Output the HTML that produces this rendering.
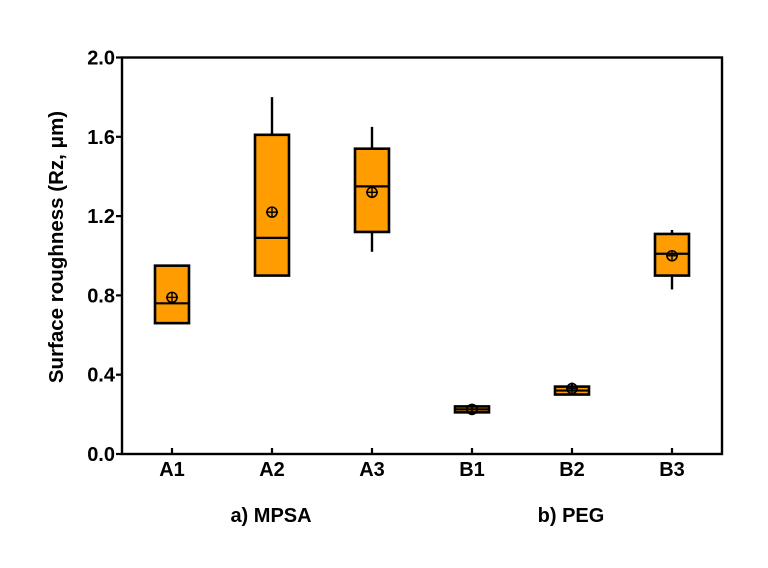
<!DOCTYPE html>
<html><head><meta charset="utf-8"><style>
body{margin:0;background:#fff;}
text{font-family:"Liberation Sans",Arial,sans-serif;font-weight:bold;fill:#000;}
</style></head><body>
<svg id="chart" width="768" height="563" viewBox="0 0 768 563" xmlns="http://www.w3.org/2000/svg">
<rect width="768" height="563" fill="#fff"/>
<g id="marks"></g>
<rect x="122" y="57.5" width="600" height="396.5" fill="none" stroke="#000" stroke-width="2.4"/>
<g id="axes"></g>
<text transform="translate(63,247) rotate(-90)" text-anchor="middle" font-size="20.5">Surface roughness (Rz, μm)</text>
<text x="271" y="522" text-anchor="middle" font-size="20">a) MPSA</text>
<text x="571" y="522" text-anchor="middle" font-size="20">b) PEG</text>
</svg>
<script>
const categories=["A1","A2","A3","B1","B2","B3"];
const q1=[0.66,0.90,1.12,0.21,0.30,0.90];
const q3=[0.95,1.61,1.54,0.24,0.34,1.11];
const medians=[0.76,1.09,1.35,0.225,0.32,1.01];
const means=[0.79,1.22,1.32,0.225,0.33,1.00];
const whiskerLow=[0.66,0.90,1.02,0.21,0.30,0.83];
const whiskerHigh=[0.95,1.80,1.65,0.24,0.36,1.13];
const yTicks=[0,0.4,0.8,1.2,1.6,2.0];
const yTickLabels=["0.0","0.4","0.8","1.2","1.6","2.0"];

const NS="http://www.w3.org/2000/svg";
const X0=122,X1=722,Y0=454,Y1=57.5;
function yScale(v){return Y0-(v/2.0)*(Y0-Y1);}
function xScale(i){return 172+i*100;}
function mk(tag,attrs,parent){const e=document.createElementNS(NS,tag);for(const k in attrs)e.setAttribute(k,attrs[k]);parent.appendChild(e);return e;}
const marks=document.getElementById('marks'),axes=document.getElementById('axes');
const bw=34;
categories.forEach((c,i)=>{
  const x=xScale(i);
  const g=mk('g',{},marks);
  
  
  if(whiskerHigh[i]>q3[i]){const w=mk('line',{x1:x,x2:x,y1:yScale(q3[i]),y2:yScale(whiskerHigh[i]),stroke:'#000','stroke-width':2.4},g);
    
    }
  if(whiskerLow[i]<q1[i]){const w=mk('line',{x1:x,x2:x,y1:yScale(q1[i]),y2:yScale(whiskerLow[i]),stroke:'#000','stroke-width':2.4},g);
    
    }
  const r=mk('rect',{x:x-bw/2,y:yScale(q3[i]),width:bw,height:yScale(q1[i])-yScale(q3[i]),fill:'#ff9c00',stroke:'#000','stroke-width':2.6},g);
  
  
  const m=mk('line',{x1:x-bw/2,x2:x+bw/2,y1:yScale(medians[i]),y2:yScale(medians[i]),stroke:'#000','stroke-width':2.2},g);
  
  
  const my=yScale(means[i]);
  const mc=mk('circle',{cx:x,cy:my,r:5,fill:'none',stroke:'#000','stroke-width':1.6},g);
  
  
  mk('line',{x1:x-6,x2:x+6,y1:my,y2:my,stroke:'#000','stroke-width':1.4},g);
  mk('line',{x1:x,x2:x,y1:my-5,y2:my+5,stroke:'#000','stroke-width':1.4},g);
  const t=mk('line',{x1:x,x2:x,y1:Y0,y2:Y0-6,stroke:'#000','stroke-width':2.2},axes);
  
  
  const lb=mk('text',{x:x,y:Y0+22,'text-anchor':'middle','font-size':20},axes);
  lb.textContent=c;
  
  
});
yTicks.forEach((v,i)=>{
  const y=yScale(v);
  const t=mk('line',{x1:X0-6,x2:X0,y1:y,y2:y,stroke:'#000','stroke-width':2.2},axes);
  
  
  const lb=mk('text',{x:X0-7,y:y+7,'text-anchor':'end','font-size':20},axes);
  lb.textContent=yTickLabels[i];
  
  
});
</script>
</body></html>
